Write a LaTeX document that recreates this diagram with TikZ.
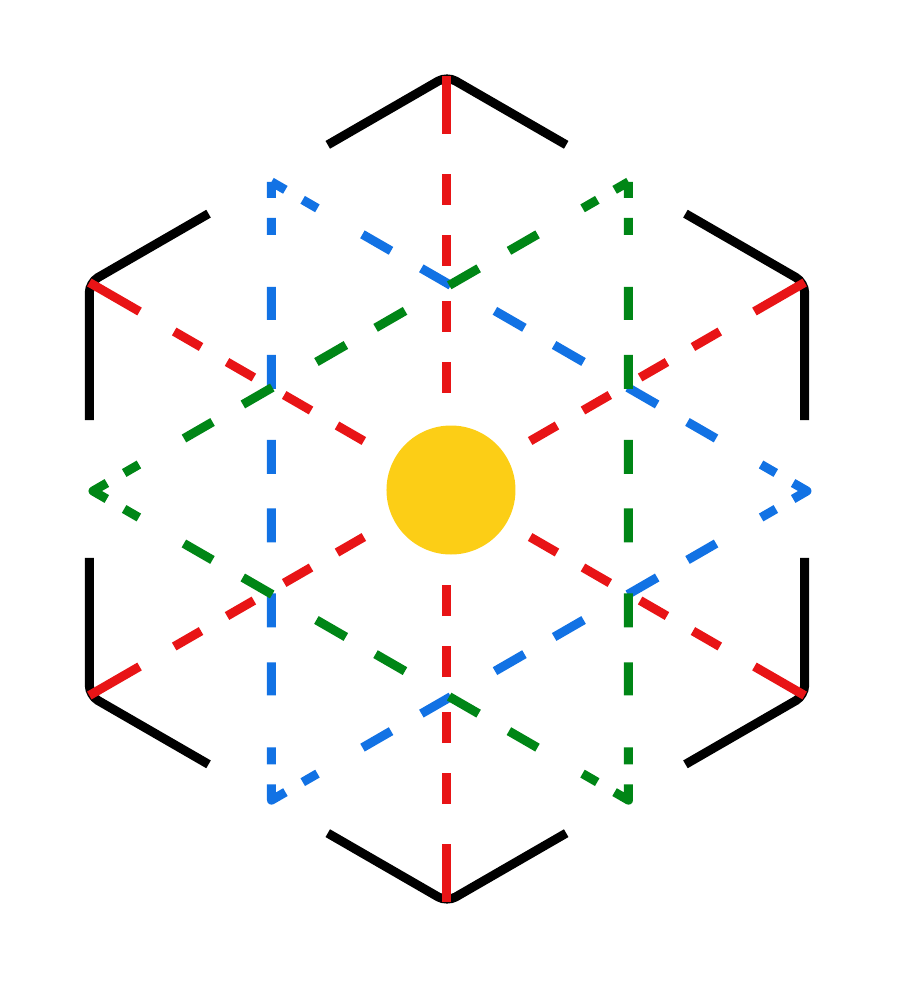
\documentclass[tikz,border=0pt]{standalone}
\usetikzlibrary{calc}
\definecolor{hexred}{RGB}{232,20,22}
\definecolor{hexblue}{RGB}{18,114,228}
\definecolor{hexgreen}{RGB}{0,134,22}
\definecolor{sunyellow}{RGB}{252,206,22}
\tikzset{
  spoke/.style={hexred,dash pattern=on 5.8mm off 4mm on 3.1mm off 3mm on 3.1mm off 3.5mm on 3.1mm off 3mm on 3.1mm off 15mm},
  tri/.style={line join=round,dash phase=1.6mm,
    dash pattern=on 3.2mm off 2mm on 1.7mm off 5.2mm on 3.3mm off 3.5mm on 3.4mm off 5.1mm on 3.4mm off 3.43mm on 3.4mm off 5.1mm on 3.4mm off 3.5mm on 3.3mm off 5.2mm on 1.7mm off 2mm}
}
\begin{document}
\begin{tikzpicture}[line width=0.9mm]
\useasboundingbox (-4.47,-4.94) rectangle (4.53,4.89);
% hexagon corners
\foreach \i in {0,...,5}
  \coordinate (h\i) at (90+60*\i:4.13);
\foreach \p/\i/\n in {5/0/1,0/1/2,1/2/3,2/3/4,3/4/5,4/5/0}
  \draw[rounded corners=0.1cm] ($(h\i)!1/3!(h\p)$) -- (h\i) -- ($(h\i)!1/3!(h\n)$);
% red diagonals
\coordinate (o) at (0,0);
\foreach \i in {0,...,5}
  \draw[spoke] (h\i) -- (o);
% triangles
\coordinate (c) at (0.03,-0.02);
\coordinate (b1) at ($(c)+(120:3.57)$);
\coordinate (b2) at ($(c)+(0:3.57)$);
\coordinate (b3) at ($(c)+(240:3.57)$);
\coordinate (g1) at ($(c)+(60:3.57)$);
\coordinate (g2) at ($(c)+(180:3.57)$);
\coordinate (g3) at ($(c)+(300:3.57)$);
\draw[tri,hexblue] (b1) -- (b2) -- (b3) -- cycle;
\draw[tri,hexgreen] (g1) -- (g2) -- (g3) -- cycle;
% sun
\fill[sunyellow] (0.04,-0.01) circle (0.645);
\end{tikzpicture}
\end{document}
